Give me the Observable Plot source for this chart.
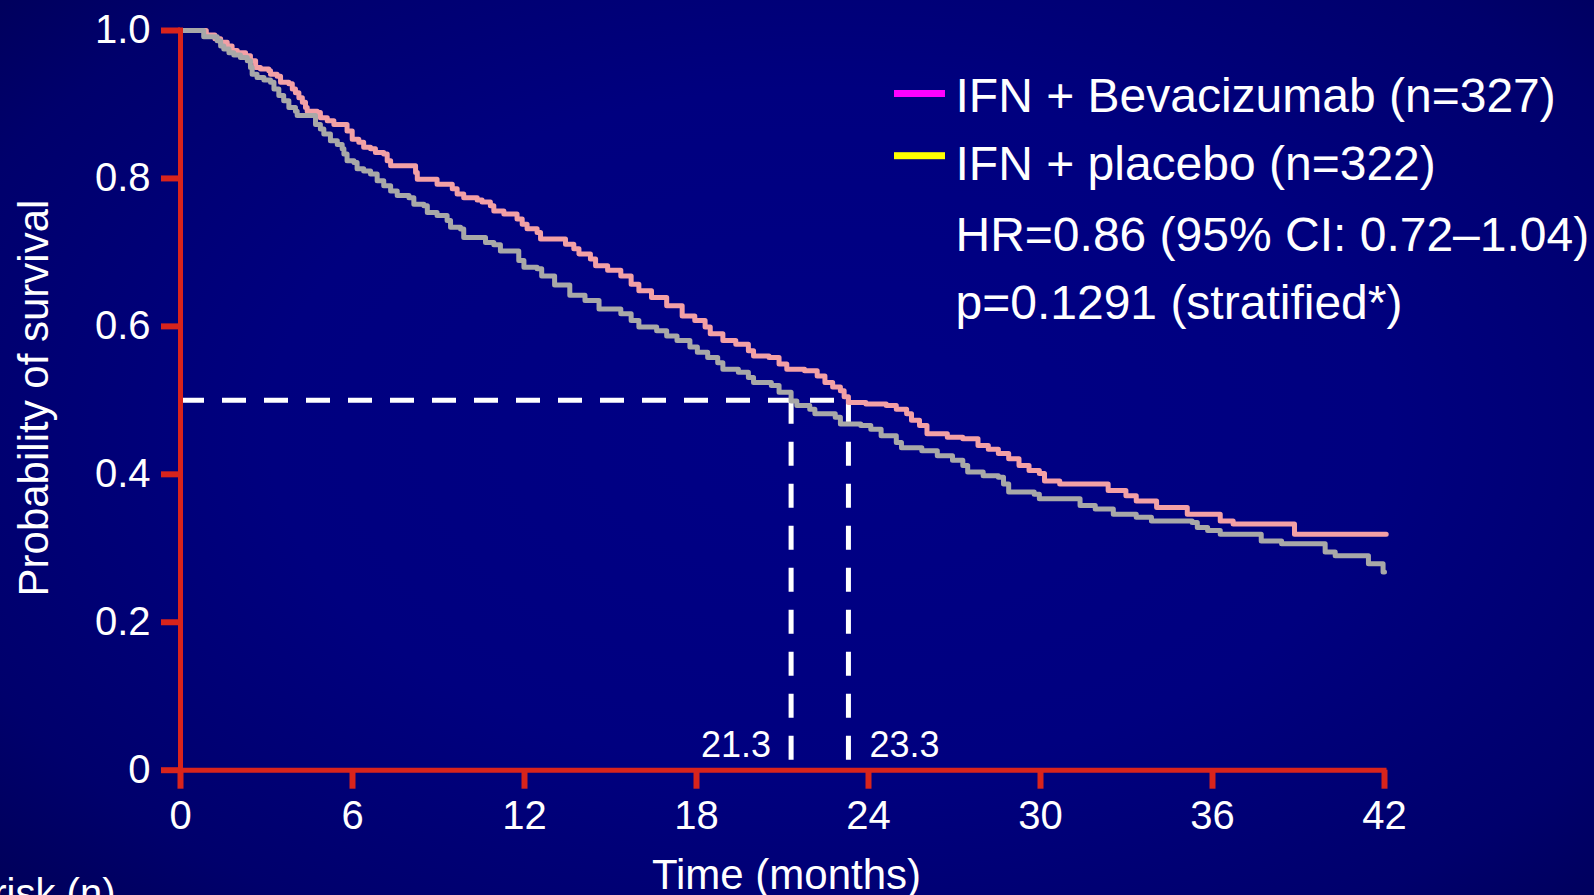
<!DOCTYPE html>
<html>
<head>
<meta charset="utf-8">
<script src="https://cdn.jsdelivr.net/npm/d3@7"></script>
<script src="https://cdn.jsdelivr.net/npm/@observablehq/plot@0.6"></script>
<style>
  html, body { margin: 0; padding: 0; width: 1594px; height: 895px; overflow: hidden; }
  body {
    background: radial-gradient(ellipse 78% 85% at 52% 48%, #000086 0%, #00007f 45%, #00006c 75%, #00004e 100%);
    font-family: "Liberation Sans", Arial, sans-serif;
  }
  #chart { position: absolute; left: 0; top: 0; }
</style>
</head>
<body>
<div id="chart"></div>
<script>
// Kaplan–Meier overall survival, months from randomisation
const bevTime = [0, 0.9, 1.2, 1.4, 1.63, 1.8, 1.98, 2.27, 2.44, 2.62, 2.79, 3.08, 3.14, 3.37, 3.49, 3.78, 3.9, 4.01, 4.13, 4.25, 4.36, 4.42, 4.77, 4.88, 5.12, 5.35, 5.81, 5.99, 6.22, 6.39, 6.63, 6.8, 7.09, 7.21, 7.33, 8.2, 8.26, 8.95, 9.48, 9.65, 9.88, 10.35, 10.52, 10.81, 10.93, 11.28, 11.74, 11.92, 12.09, 12.44, 12.56, 13.43, 13.72, 13.9, 14.3, 14.48, 14.9, 15.36, 15.72, 15.99, 16.43, 16.96, 17.5, 17.94, 18.3, 18.48, 18.92, 19.37, 19.81, 19.99, 20.53, 20.88, 21.15, 21.77, 22.21, 22.48, 22.75, 23.02, 23.15, 23.3, 23.91, 24.62, 24.97, 25.33, 25.5, 25.78, 26.04, 26.75, 27.29, 27.82, 28.18, 28.53, 28.89, 29.25, 29.6, 29.96, 30.14, 30.67, 32.36, 32.98, 33.34, 34.05, 35.12, 36.27, 36.72, 38.86, 42.06];
const bevSurv = [1.0, 0.994, 0.989, 0.984, 0.979, 0.973, 0.970, 0.966, 0.959, 0.950, 0.948, 0.9455, 0.941, 0.938, 0.930, 0.928, 0.921, 0.916, 0.909, 0.903, 0.896, 0.891, 0.889, 0.882, 0.878, 0.873, 0.864, 0.853, 0.849, 0.842, 0.840, 0.835, 0.833, 0.824, 0.817, 0.808, 0.799, 0.792, 0.786, 0.779, 0.774, 0.771, 0.768, 0.763, 0.756, 0.752, 0.745, 0.738, 0.732, 0.727, 0.718, 0.711, 0.705, 0.698, 0.691, 0.682, 0.676, 0.668, 0.657, 0.648, 0.639, 0.628, 0.614, 0.608, 0.599, 0.590, 0.581, 0.576, 0.567, 0.560, 0.558, 0.549, 0.542, 0.540, 0.533, 0.524, 0.518, 0.513, 0.505, 0.497, 0.495, 0.493, 0.488, 0.482, 0.473, 0.466, 0.455, 0.450, 0.448, 0.439, 0.434, 0.428, 0.421, 0.412, 0.405, 0.401, 0.391, 0.387, 0.378, 0.371, 0.364, 0.355, 0.346, 0.337, 0.333, 0.319, 0.319];

const plaTime = [0, 0.81, 1.28, 1.4, 1.51, 1.69, 1.86, 2.09, 2.33, 2.44, 2.5, 2.67, 2.91, 3.14, 3.26, 3.43, 3.6, 3.78, 4.01, 4.07, 4.71, 4.88, 5.0, 5.23, 5.47, 5.64, 5.7, 5.81, 6.05, 6.16, 6.39, 6.63, 6.86, 7.09, 7.33, 7.56, 7.97, 8.14, 8.49, 8.61, 8.95, 9.3, 9.42, 9.77, 9.88, 10.64, 10.93, 11.16, 11.8, 11.98, 12.44, 12.6, 13.05, 13.58, 14.11, 14.6, 15.36, 15.72, 15.99, 16.61, 16.96, 17.32, 17.77, 18.03, 18.39, 18.74, 18.92, 19.46, 19.81, 19.99, 20.61, 20.88, 21.3, 21.5, 21.95, 22.13, 22.84, 23.02, 23.73, 24.08, 24.44, 24.97, 25.15, 25.86, 26.4, 26.93, 27.29, 27.46, 28.0, 28.53, 28.71, 28.89, 29.78, 29.96, 31.38, 31.91, 32.54, 33.34, 33.87, 35.29, 35.47, 35.83, 36.27, 37.7, 38.41, 39.93, 40.28, 41.44, 41.95, 42.0];
const plaSurv = [1.0, 0.9915, 0.986, 0.979, 0.975, 0.970, 0.967, 0.9635, 0.959, 0.950, 0.941, 0.9365, 0.933, 0.930, 0.921, 0.912, 0.905, 0.896, 0.891, 0.885, 0.873, 0.867, 0.860, 0.851, 0.846, 0.840, 0.833, 0.824, 0.8216, 0.813, 0.810, 0.806, 0.797, 0.790, 0.783, 0.777, 0.774, 0.765, 0.763, 0.754, 0.750, 0.743, 0.734, 0.7316, 0.720, 0.7135, 0.7105, 0.702, 0.689, 0.680, 0.678, 0.668, 0.656, 0.642, 0.635, 0.6235, 0.617, 0.608, 0.599, 0.594, 0.587, 0.581, 0.572, 0.565, 0.558, 0.551, 0.542, 0.538, 0.531, 0.524, 0.520, 0.511, 0.499, 0.493, 0.488, 0.482, 0.477, 0.468, 0.466, 0.461, 0.452, 0.443, 0.436, 0.432, 0.425, 0.419, 0.412, 0.403, 0.398, 0.396, 0.387, 0.376, 0.373, 0.367, 0.358, 0.353, 0.346, 0.342, 0.337, 0.335, 0.328, 0.324, 0.319, 0.310, 0.306, 0.295, 0.290, 0.279, 0.268, 0.268];

// Median survival per arm (placebo, bevacizumab)
const medianTimes = [21.3, 23.3];
const medianLabels = ["21.3", "23.3"];

const xTicks = [0, 6, 12, 18, 24, 30, 36, 42];
const yTicks = [0, 0.2, 0.4, 0.6, 0.8, 1.0];
const yTickLabels = ["0", "0.2", "0.4", "0.6", "0.8", "1.0"];

const legendLabels = ["IFN + Bevacizumab (n=327)", "IFN + placebo (n=322)"];
const legendColors = ["#ff00ff", "#ffff00"];
const statLines = ["HR=0.86 (95% CI: 0.72\u20131.04)", "p=0.1291 (stratified*)"];

const curveColors = { bev: "#f3a0a6", pla: "#a8a8a8" };
const axisRed = "#d9241c";

const bevRows = bevTime.map((t, i) => ({ t, s: bevSurv[i] }));
const plaRows = plaTime.map((t, i) => ({ t, s: plaSurv[i] }));
const medianRows = medianTimes.map((t, i) => ({ t, label: medianLabels[i], side: i === 0 ? -1 : 1 }));

const font = "Liberation Sans, Arial, sans-serif";
const textLines = [...legendLabels, ...statLines];
const baselines = [81.7, 149.3, 220, 288];   // offsets from the frame top

const chart = Plot.plot({
  width: 1594,
  height: 895,
  marginLeft: 180,
  marginRight: 210,
  marginTop: 30,
  marginBottom: 125.3,
  style: { background: "transparent", overflow: "visible", fontFamily: font },
  x: { domain: [0, 42] },
  y: { domain: [0, 1] },
  marks: [
    // median guides
    Plot.ruleY([0.5], { x1: 0, x2: medianTimes[1], stroke: "white", strokeWidth: 5, strokeDasharray: "24,18" }),
    Plot.ruleX(medianTimes, { x: d => d, y1: 0.5, y2: 0, stroke: "white", strokeWidth: 5, strokeDasharray: "24,18" }),
    Plot.text(medianRows.filter(d => d.side < 0), { x: "t", y: 0, text: "label", dx: -20, dy: -13, textAnchor: "end", lineAnchor: "bottom", fontSize: 36, fill: "white" }),
    Plot.text(medianRows.filter(d => d.side > 0), { x: "t", y: 0, text: "label", dx: 21, dy: -13, textAnchor: "start", lineAnchor: "bottom", fontSize: 36, fill: "white" }),

    // survival curves
    Plot.line(bevRows, { x: "t", y: "s", curve: "step-after", stroke: curveColors.bev, strokeWidth: 5 }),
    Plot.line(plaRows, { x: "t", y: "s", curve: "step-after", stroke: curveColors.pla, strokeWidth: 5 }),

    // axes
    Plot.axisX({ ticks: xTicks, tickSize: 19, tickPadding: 11, stroke: axisRed, strokeWidth: 6, fill: "white", fontSize: 40, label: null }),
    Plot.axisY({ ticks: yTicks, tickFormat: d => yTickLabels[yTicks.indexOf(d)], tickSize: 19, tickPadding: 11, stroke: axisRed, strokeWidth: 6, fill: "white", fontSize: 40, label: null }),
    Plot.ruleX([0], { y1: 0, y2: 1, stroke: axisRed, strokeWidth: 5, strokeLinecap: "square" }),
    Plot.ruleY([0], { x1: 0, x2: 42, stroke: axisRed, strokeWidth: 5, strokeLinecap: "square" }),

    // axis titles
    Plot.text(["Probability of survival"], { text: d => d, frameAnchor: "left", rotate: -90, dx: -133, dy: -2.3, lineAnchor: "bottom", textAnchor: "middle", fontSize: 42, fill: "white" }),
    Plot.text(["Time (months)"], { text: d => d, frameAnchor: "bottom", dx: 4, dy: 118.8, lineAnchor: "bottom", textAnchor: "middle", fontSize: 42, fill: "white" }),
    Plot.text(["At risk (n)"], { text: d => d, frameAnchor: "bottom-left", dx: -65, dy: 137, lineAnchor: "bottom", textAnchor: "end", fontSize: 40, fill: "white" }),

    // legend and statistics text
    ...textLines.map((line, i) => Plot.text([line], { text: d => d, frameAnchor: "top-left", dx: 775, dy: baselines[i], lineAnchor: "bottom", textAnchor: "start", fontSize: 48, fill: "white" }))
  ]
});

// legend swatches
const svg = d3.select(chart);
const swatchY = [93.5, 155.7];
svg.append("g")
  .selectAll("rect")
  .data(legendColors)
  .join("rect")
  .attr("x", 894)
  .attr("width", 51)
  .attr("y", (d, i) => swatchY[i] - 3.5)
  .attr("height", 7)
  .attr("fill", d => d);

document.getElementById("chart").appendChild(chart);
</script>
</body>
</html>
